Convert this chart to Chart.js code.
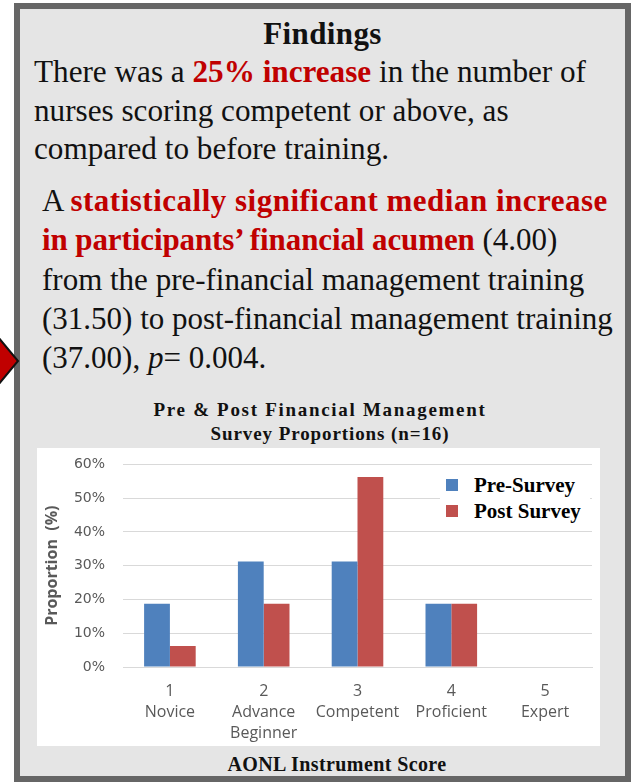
<!DOCTYPE html>
<html lang="en">
<head>
<meta charset="UTF-8">
<title>Findings</title>
<script src="https://cdn.jsdelivr.net/npm/chart.js"></script>
<style>
  body { margin: 0; width: 634px; height: 784px; background: #fff; position: relative; overflow: hidden; font-family: "Liberation Serif", serif; }
  #panel { position: absolute; left: 14px; top: 3px; width: 605px; height: 767px; background: #e5e5e5; border: 6px solid #666; }
  .txt { position: absolute; white-space: nowrap; color: #111; }
  .red { color: #c00000; font-weight: bold; }
  #head { left: 0; width: 605px; top: 7px; text-align: center; font-weight: bold; font-size: 31px; letter-spacing: 0.4px; }
  #p1 { left: 14px; top: 44px; font-size: 31.2px; line-height: 38.6px; }
  #p2 { left: 22px; top: 172px; font-size: 31px; line-height: 39.3px; }
  #r1 { letter-spacing: 0.5px; }
  #r2 { letter-spacing: -0.1px; }
  .ct { top: 389px; font-weight: bold; font-size: 19px; line-height: 24px; text-align: center; }
  #ct1 { left: 0; width: 600px; letter-spacing: 1.7px; }
  #ct2 { left: 0; width: 620px; top: 413px; letter-spacing: 0.9px; }
  #xtitle { left: 0; width: 634px; top: 744px; text-align: center; font-weight: bold; font-size: 20px; letter-spacing: 0.4px; }
  #box { position: absolute; left: 37px; top: 448px; width: 563px; height: 298px; background: #fff; }
  #myChart { position: absolute; left: 37px; top: 438px; }
  #legend { position: absolute; left: 440px; top: 471px; width: 150px; height: 56px; background: #fff; font-family: "Liberation Serif", serif; font-weight: bold; font-size: 21px; }
  #legend div { position: absolute; left: 6px; white-space: nowrap; }
  #legend span { display: inline-block; width: 12px; height: 12px; margin-right: 16px; vertical-align: 1px; }
  #arrow { position: absolute; left: 0; top: 336px; }
</style>
</head>
<body>
<div id="panel">
  <div class="txt" id="head">Findings</div>
  <div class="txt" id="p1">There was a <span class="red">25% increase</span> in the number of<br>nurses scoring competent or above, as<br>compared to before training.</div>
  <div class="txt" id="p2">A <span class="red" id="r1">statistically significant median increase</span><br><span class="red" id="r2">in participants’ financial acumen</span> (4.00)<br>from the pre-financial management training<br>(31.50) to post-financial management training<br>(37.00), <i>p</i>= 0.004.</div>
  <div class="txt ct" id="ct1">Pre &amp; Post Financial Management</div>
  <div class="txt ct" id="ct2">Survey Proportions (n=16)</div>
  <div class="txt" id="xtitle">AONL Instrument Score</div>
</div>
<svg id="arrow" width="24" height="52"><polygon points="-2,1 18,25 -2,49" fill="#c00000" stroke="#111" stroke-width="2"/></svg>
<div id="box"></div>
<canvas id="myChart" width="563" height="308"></canvas>
<div id="legend"></div>

<script>
// values (n=16, so steps of 6.25%)
var scores = ['1', '2', '3', '4', '5'];
var levels = [['Novice'], ['Advance', 'Beginner'], ['Competent'], ['Proficient'], ['Expert']];
var preSurvey = [18.75, 31.25, 31.25, 18.75, 0];
var postSurvey = [6.25, 18.75, 56.25, 18.75, 0];
var seriesNames = ['Pre-Survey', 'Post Survey'];
var seriesColors = ['#4f81bd', '#c0504d'];
var yTicks = [0, 10, 20, 30, 40, 50, 60];

var labels = scores.map(function (s, i) { return [s].concat(levels[i]); });

var ctx = document.getElementById('myChart').getContext('2d');
var myChart = new Chart(ctx, {
    type: 'bar',
    data: {
        labels: labels,
        datasets: [{
            label: seriesNames[0],
            data: preSurvey,
            backgroundColor: seriesColors[0]
        }, {
            label: seriesNames[1],
            data: postSurvey,
            backgroundColor: seriesColors[1]
        }]
    },
    options: {
        responsive: false,
        animation: false,
        layout: { padding: { top: 0, right: 8, left: 4 } },
        datasets: { bar: { categoryPercentage: 0.55, barPercentage: 1 } },
        plugins: {
            legend: { display: false },
            tooltip: { enabled: false }
        },
        scales: {
            x: {
                grid: { display: false, drawTicks: false },
                border: { color: '#d9d9d9' },
                ticks: { color: '#595959', font: { family: 'Open Sans', size: 16, lineHeight: 1.3 }, padding: 14, maxRotation: 0 },
                afterFit: function (axis) { axis.height = 79; }
            },
            y: {
                min: 0,
                max: 60,
                afterBuildTicks: function (axis) { axis.ticks = yTicks.map(function (v) { return { value: v }; }); },
                grid: { color: '#d9d9d9', drawTicks: false },
                border: { display: false },
                ticks: {
                    color: '#595959', font: { family: 'DejaVu Sans', size: 14 }, padding: 18,
                    callback: function (v) { return v + '%'; }
                },
                title: { display: true, text: 'Proportion  (%)', color: '#595959', font: { family: 'Open Sans', size: 16, weight: 'bold' }, padding: 2 },
                afterFit: function (axis) { axis.width = 82; }
            }
        }
    }
});

// legend sits on top of the plot, like the original
var lg = document.getElementById('legend');
seriesNames.forEach(function (name, i) {
    var row = document.createElement('div');
    row.style.top = (i === 0 ? 2 : 28) + 'px';
    row.innerHTML = '<span style="background:' + seriesColors[i] + '"></span>' + name;
    lg.appendChild(row);
});
</script>
</body>
</html>
